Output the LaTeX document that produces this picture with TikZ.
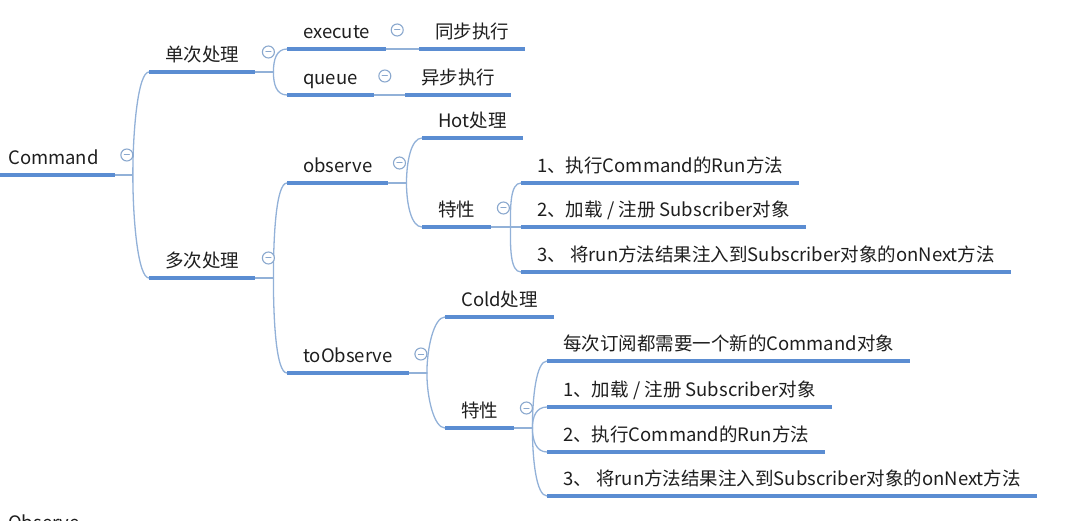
\documentclass[tikz,border=0pt]{standalone}
\usepackage{fontspec}
\setmainfont{Noto Sans CJK SC}
\usetikzlibrary{positioning, calc}
\definecolor{mapink}{HTML}{1E1E1E}
\definecolor{mapline}{HTML}{5B8DD2}
\definecolor{maplink}{HTML}{92B1D8}
\definecolor{mapfold}{HTML}{8AA8CE}

\begin{document}
\begin{tikzpicture}[
  x=1pt, y=-1pt,
  line cap=round, line join=round,
  topic/.style = {anchor=south west, inner xsep=16pt, inner ysep=6pt,
                  text height=14pt, text depth=4pt, text=mapink,
                  font=\fontsize{18.5pt}{20pt}\selectfont},
  uline/.style = {draw=mapline, line width=3.6pt, line cap=butt},
  link/.style  = {draw=maplink, line width=1.3pt},
  up/.style    = {out=90, in=180, out looseness=1.1, in distance=11pt},
  dn/.style    = {out=-90, in=180, out looseness=1.1, in distance=11pt},
  fold/.style  = {circle, draw=mapfold, line width=1.1pt, fill=white,
                  minimum size=12pt, inner sep=0pt,
                  path picture={\draw[mapfold, line width=1pt]
                    ([xshift=-2.6pt]path picture bounding box.center) --
                    ([xshift=2.6pt]path picture bounding box.center);}}
]
\clip (0,0) rectangle (1071,521);

% 主题
\node[topic] (cmd) at (-8,175) {Command};
\node[topic] (single) at (149,72) {单次处理};
\node[topic] (multi) at (149,278) {多次处理};

% 单次处理
\node[topic] (exec) at (287,49) {execute};
\node[topic] (sync) at (419,49) {同步执行};
\node[topic] (queue) at (287,95) {queue};
\node[topic] (async) at (405,95) {异步执行};

% observe
\node[topic] (obsv) at (287,183) {observe};
\node[topic] (hot) at (422,138) {Hot处理};
\node[topic] (feat1) at (422,227) {特性};
\node[topic] (hA) at (521,183) {1、执行Command的Run方法};
\node[topic] (hB) at (521,227) {2、加载 / 注册 Subscriber对象};
\node[topic] (hC) at (521,272) {3、 将run方法结果注入到Subscriber对象的onNext方法};

% toObserve
\node[topic] (tobs) at (287,373) {toObserve};
\node[topic] (cold) at (445,317) {Cold处理};
\node[topic] (feat2) at (445,428) {特性};
\node[topic] (cA) at (547,361) {每次订阅都需要一个新的Command对象};
\node[topic] (cB) at (547,407) {1、加载 / 注册 Subscriber对象};
\node[topic] (cC) at (547,452) {2、执行Command的Run方法};
\node[topic] (cD) at (547,496) {3、 将run方法结果注入到Subscriber对象的onNext方法};

% 下方被截断的主题
\node[topic] (obsr) at (-8,540) {Observe};

% 分支点
\coordinate (b1) at ([xshift=18pt]cmd.south east);
\coordinate (b2) at ([xshift=18pt]single.south east);
\coordinate (b3) at ([xshift=18pt]multi.south east);
\coordinate (b4) at ([xshift=18pt]obsv.south east);
\coordinate (b5) at ([xshift=19pt]feat1.south east);
\coordinate (b6) at ([xshift=18pt]tobs.south east);
\coordinate (b7) at ([xshift=18pt]feat2.south east);

% 连线
\draw[link] (cmd.south east) -- (b1);
\draw[link] (b1) to[up] (single.south west);
\draw[link] (b1) to[dn] (multi.south west);

\draw[link] (single.south east) -- (b2);
\draw[link] (b2) to[up] (exec.south west);
\draw[link] (b2) to[dn] (queue.south west);
\draw[link] (exec.south east) -- (sync.south west);
\draw[link] (queue.south east) -- (async.south west);

\draw[link] (multi.south east) -- (b3);
\draw[link] (b3) to[up] (obsv.south west);
\draw[link] (b3) to[dn] (tobs.south west);

\draw[link] (obsv.south east) -- (b4);
\draw[link] (b4) to[up] (hot.south west);
\draw[link] (b4) to[dn] (feat1.south west);
\draw[link] (feat1.south east) -- (b5);
\draw[link] (b5) to[up] (hA.south west);
\draw[link] (b5) -- (hB.south west);
\draw[link] (b5) to[dn] (hC.south west);

\draw[link] (tobs.south east) -- (b6);
\draw[link] (b6) to[up] (cold.south west);
\draw[link] (b6) to[dn] (feat2.south west);
\draw[link] (feat2.south east) -- (b7);
\draw[link] (b7) to[up] (cA.south west);
\draw[link] (b7) to[up] (cB.south west);
\draw[link] (b7) to[dn] (cC.south west);
\draw[link] (b7) to[dn] (cD.south west);

% 下划线
\foreach \n in {cmd, single, multi, exec, sync, queue, async, obsv, hot,
                feat1, hA, hB, hC, tobs, cold, feat2, cA, cB, cC, cD}
  \draw[uline] (\n.south west) -- (\n.south east);

% 折叠按钮
\node[fold] (cmd-f) at ([xshift=12pt, yshift=20pt]cmd.south east) {};
\node[fold] (single-f) at ([xshift=13pt, yshift=20pt]single.south east) {};
\node[fold] (multi-f) at ([xshift=13pt, yshift=20pt]multi.south east) {};
\node[fold] (exec-f) at ([xshift=11pt, yshift=19pt]exec.south east) {};
\node[fold] (queue-f) at ([xshift=11pt, yshift=19pt]queue.south east) {};
\node[fold] (obsv-f) at ([xshift=11pt, yshift=20pt]obsv.south east) {};
\node[fold] (feat1-f) at ([xshift=12pt, yshift=19pt]feat1.south east) {};
\node[fold] (tobs-f) at ([xshift=12pt, yshift=19pt]tobs.south east) {};
\node[fold] (feat2-f) at ([xshift=12pt, yshift=20pt]feat2.south east) {};

\end{tikzpicture}
\end{document}
